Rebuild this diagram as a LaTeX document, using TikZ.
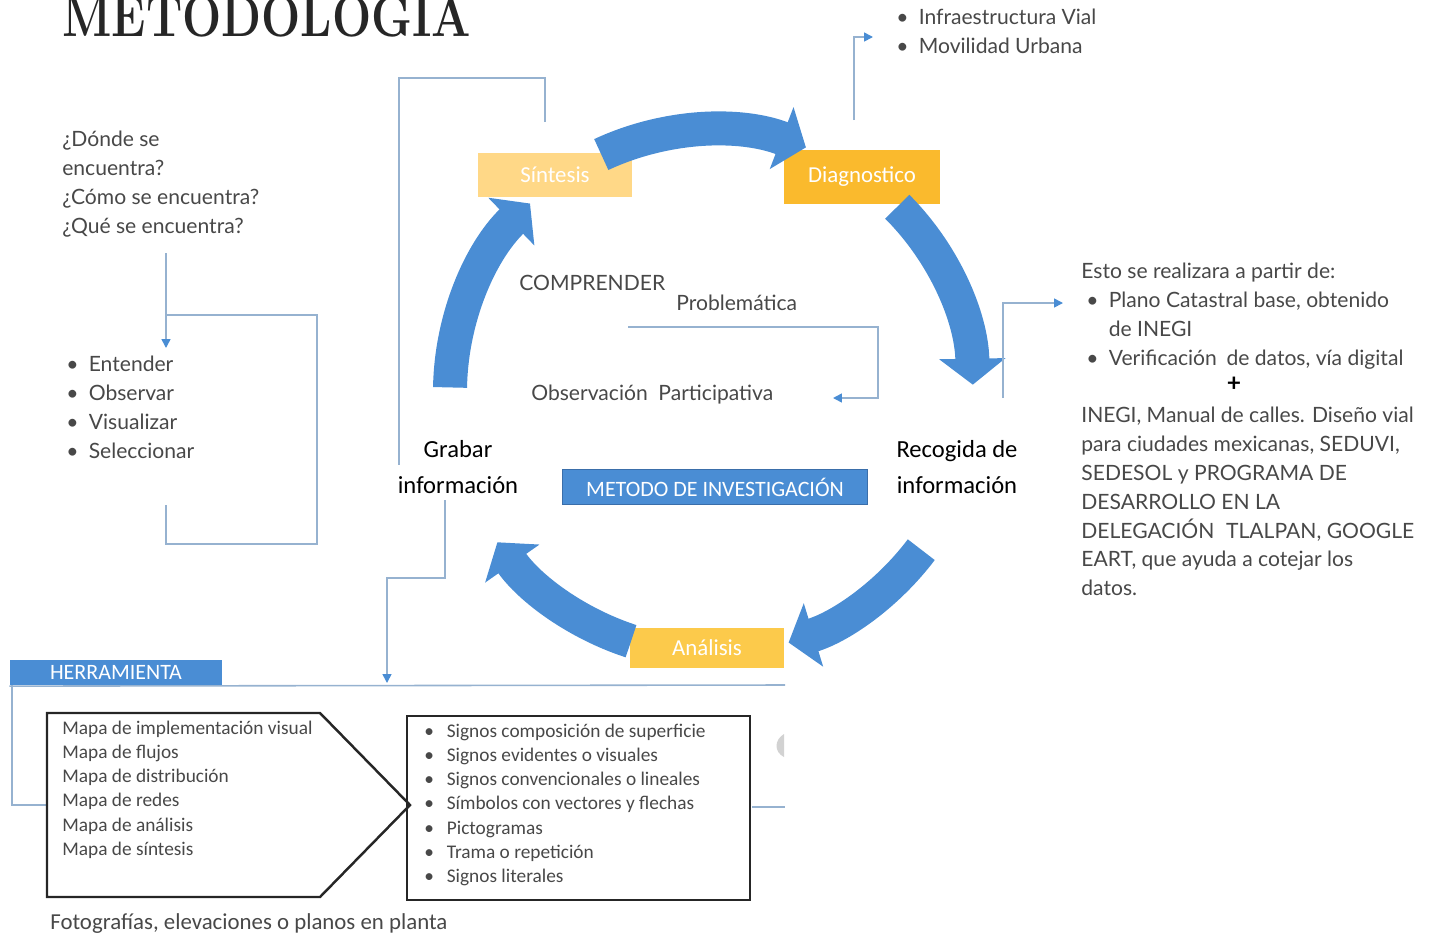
\documentclass[tikz,border=0pt]{standalone}
\usepackage{fontspec}
\newfontfamily\lato{Lato}
\newfontfamily\calib{Carlito}
\usetikzlibrary{shapes,arrows.meta,positioning,calc}
\definecolor{cycblue}{RGB}{74,141,212}
\definecolor{boxedge}{RGB}{58,110,170}
\definecolor{linkblue}{RGB}{150,178,208}
\definecolor{sintcol}{RGB}{255,216,135}
\definecolor{diagcol}{RGB}{250,186,45}
\definecolor{anacol}{RGB}{252,202,75}
\definecolor{txtgray}{RGB}{72,72,72}
\newcommand{\bul}[1]{\makebox[0.45cm][l]{\textbullet}#1}

\begin{document}
\begin{tikzpicture}[x=0.02cm, y=-0.02cm,
  cyc/.style={draw=cycblue, line width=0.68cm, -{Triangle[length=0.52cm,width=1.3cm]}},
  stage/.style={text=white, font=\calib\fontsize{13}{15}\selectfont, inner sep=0},
  link/.style={draw=linkblue, line width=0.9pt},
  tip/.style={-{Triangle[length=5pt,width=5pt,color=cycblue]}},
  txt/.style={inner sep=0, text=txtgray, align=left, anchor=north west, font=\lato\fontsize{12}{16.4}\selectfont},
  small/.style={inner sep=0, text=txtgray, align=left, anchor=north west, font=\calib\fontsize{11}{13.7}\selectfont},
  bluebox/.style={fill=cycblue, draw=boxedge, line width=0.8pt, text=white, font=\calib\fontsize{12.5}{14}\selectfont}]
\clip (0,0) rectangle (1439,940);

\node[anchor=base west, inner sep=0, font=\fontsize{33}{33}\selectfont\bfseries, text=black!85] (title) at (62,36) {\scalebox{0.8}[1]{METODOLOGIA}};

\node[stage, fill=sintcol, minimum width=3.08cm, minimum height=0.88cm] (sint) at (555,175) {Síntesis};
\node[stage, fill=diagcol, minimum width=3.12cm, minimum height=1.1cm] (diag) at (862,177) {Diagnostico};
\node[stage, fill=anacol, minimum width=3.1cm, minimum height=0.8cm] (ana) at (707,648) {Análisis};

\coordinate (c) at (712,392);
\draw[cyc] ($(c)+(245:262)$) arc[start angle=245, end angle=291, radius=262];
\draw[cyc] ($(c)+(315:262)$) arc[start angle=315, end angle=359, radius=258];
\draw[cyc] ($(c)+(37:262)$) arc[start angle=37, end angle=73, radius=262];
\draw[cyc] ($(c)+(108:262)$) arc[start angle=108, end angle=145, radius=262];
\draw[cyc] ($(c)+(181:262)$) arc[start angle=181, end angle=226, radius=262];

\node[txt, anchor=west] (comp) at (519,283) {COMPRENDER};
\node[txt, anchor=west] (prob) at (676,303) {Problemática};
\node[txt, anchor=west] (obs) at (531,395) {Observación\hspace{0.25em} Participativa};
\node[inner sep=0, align=center, font=\calib\fontsize{14}{20.5}\selectfont] (grab) at (458,467) {Grabar\\información};
\node[inner sep=0, align=center, font=\calib\fontsize{14}{20.5}\selectfont] (recog) at (957,467) {Recogida de\\información};
\node[bluebox, minimum width=6.1cm, minimum height=0.7cm] (metodo) at (715,487) {METODO DE INVESTIGACIÓN};

\coordinate (pa) at (628,327);
\coordinate (pb) at (878,327);
\coordinate (pin) at (833,398);
\draw[link, tip] (pa) -- (pb) |- (pin);

\node[txt] (vial) at (896,9) {\bul{Infraestructura Vial}\\\bul{Movilidad Urbana}};
\coordinate (da) at (854,120);
\coordinate (db) at (873,37);
\draw[link, tip] (da) |- (db);

\node[txt] (fuente) at (1081,263) {Esto se realizara a partir de:\\\hspace{0.1cm}\bul{Plano Catastral base, obtenido}\\\hspace{0.1cm}\makebox[0.45cm]{}de INEGI\\\hspace{0.1cm}\bul{Verificación\hspace{0.2em} de datos, vía digital}};
\node[inner sep=0, font=\lato\fontsize{14}{14}\selectfont\bfseries] (plus) at (1234,384) {+};
\node[txt] (inegi) at (1081,407) {INEGI, Manual de calles. Diseño vial\\para ciudades mexicanas, SEDUVI,\\SEDESOL y PROGRAMA DE\\DESARROLLO EN LA\\DELEGACIÓN\hspace{0.3em} TLALPAN, GOOGLE\\EART, que ayuda a cotejar los\\datos.};
\coordinate (ra) at (1003,398);
\coordinate (rb) at (1063,303);
\draw[link, tip] (ra) |- (rb);

\node[txt] (preg) at (62,131) {¿Dónde se\\encuentra?\\¿Cómo se encuentra?\\¿Qué se encuentra?};
\node[txt] (acc) at (66,356) {\bul{Entender}\\\bul{Observar}\\\bul{Visualizar}\\\bul{Seleccionar}};
\coordinate (qa) at (166,253);
\coordinate (qb) at (166,348);
\draw[link, tip] (qa) -- (qb);
\draw[link] (166,315) -| (317,544) -| (166,505);

\coordinate (sa) at (545,122);
\coordinate (sb) at (399,465);
\draw[link] (sa) |- (399,78) -- (sb);
\coordinate (ga) at (445,500);
\coordinate (gb) at (387,683);
\draw[link, tip] (ga) |- (416,578) -| (gb);

\node[bluebox, draw=none, minimum width=4.24cm, minimum height=0.5cm] (herr) at (116,672.5) {HERRAMIENTA};
\draw[link] (herr.south west) -- (785,685);
\draw[link] (12,685) |- (47,805);
\draw[link] (752,807) -- (785,807);
\fill[gray!35] (784,734) .. controls (774,740) and (774,752) .. (784,757) -- cycle;

\draw[line width=1.4pt, black!85] (47,713) -- (320,713) -- (410,805) -- (320,897) -- (47,897) -- cycle;
\node[small] (mapas) at (62,721) {Mapa de implementación visual\\Mapa de flujos\\Mapa de distribución\\Mapa de redes\\Mapa de análisis\\Mapa de síntesis};
\node[draw=black!85, line width=1.4pt, minimum width=6.86cm, minimum height=3.68cm] (signbox) at (578.5,808) {};
\node[small] (signos) at (424,724) {\bul{Signos composición de superficie}\\\bul{Signos evidentes o visuales}\\\bul{Signos convencionales o lineales}\\\bul{Símbolos con vectores y flechas}\\\bul{Pictogramas}\\\bul{Trama o repetición}\\\bul{Signos literales}};
\node[small, anchor=west, font=\calib\fontsize{13}{15}\selectfont] (foto) at (50,924) {Fotografías, elevaciones o planos en planta};
\end{tikzpicture}
\end{document}
